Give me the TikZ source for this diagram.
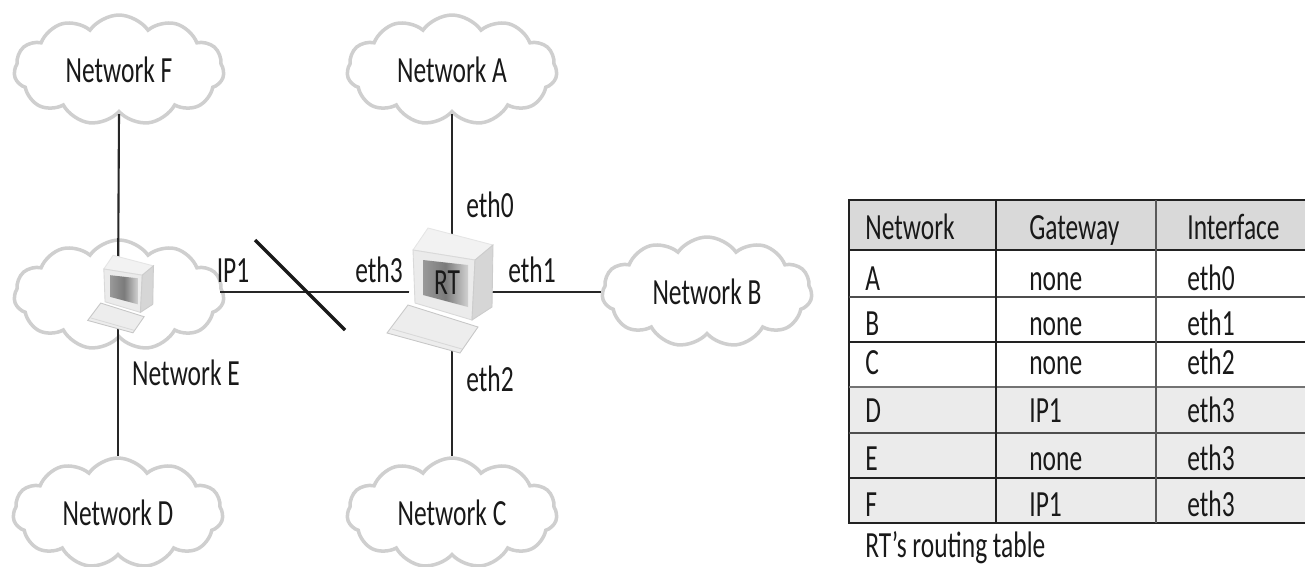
\documentclass[tikz,border=0pt]{standalone}
\usepackage{fontspec}
\setmainfont[FakeStretch=0.69]{Carlito}
\usepackage{tikz}
\usetikzlibrary{shapes.symbols}
\definecolor{cloudline}{HTML}{CFCFCF}
\definecolor{tableline}{HTML}{222222}
\definecolor{headfill}{HTML}{D9D9D9}
\definecolor{rowfill}{HTML}{EBEBEB}
\tikzset{
    netcloud/.style={cloud, cloud puffs=11, cloud puff arc=110, aspect=1.9, draw=cloudline, line width=2pt, fill=white, minimum width=4.2cm, minimum height=2.2cm, inner sep=0pt, font=\fontsize{21}{24}\selectfont, text=black!90},
    lbl/.style={inner sep=0pt, text height=18pt, text depth=4pt, font=\fontsize{21}{24}\selectfont, text=black!90},
    cell/.style={lbl, anchor=west},
    link/.style={line width=1.2pt, black!85},
    hostpoint/.style={inner sep=0pt, minimum size=0pt},
    computer/.pic={
        \fill[white] (-24,-64) -- (41,-47) -- (40,15) -- (26,35) -- (8,61) -- (-65,41) -- (-44,13) -- (-39,-42) -- cycle;
        \draw[black!10, fill=black!5, line width=.5pt] (-24,-64) -- (41,-47) -- (23,-32) -- (-39,-42) -- cycle;
        \draw[black!15, fill=black!8, line width=.5pt] (-39,-42) -- (23,-32) -- (20,28) -- (-37,11) -- cycle;
        \draw[black!20, fill=black!16, line width=.5pt] (41,-47) -- (23,-32) -- (20,28) -- (40,15) -- cycle;
        \shade[left color=black!40, right color=black!18, middle color=black!52] (-29,-32) -- (16,-27) -- (16,15) -- (-29,3) -- cycle;
        \draw[black!22, fill=black!7, line width=.5pt] (-44,13) -- (26,35) -- (8,61) -- (-65,41) -- cycle;
        \draw[black!15, line width=.5pt] (-60,37) -- (10,57);
    }
}
\begin{document}
\begin{tikzpicture}[x=0.02cm, y=-0.02cm]
    \useasboundingbox (0,0) rectangle (1305,566);
    % clouds
    \node[netcloud] (netf) at (119,70) {Network F};
    \node[netcloud] (neta) at (452,70) {Network A};
    \node[netcloud] (nete) at (119,295) {};
    \node[netcloud] (netb) at (707,292) {Network B};
    \node[netcloud] (netd) at (118,513) {Network D};
    \node[netcloud] (netc) at (452,513) {Network C};
    \node[hostpoint] (rt) at (452,292) {};
    \node[hostpoint] (hoste) at (118,292) {};
    \coordinate (slasha) at (255,240);
    \coordinate (slashb) at (345,330);
    % links
    \draw[link] (netf.south) -- (hoste);
    \draw[link] (hoste) -- (netd.north);
    \draw[link] (neta.south) -- (rt);
    \draw[link] (rt) -- (netc.north);
    \draw[link] ([xshift=-.1cm]nete.east |- rt) -- (rt);
    \draw[link] (rt) -- (netb.west |- rt);
    \draw[line width=1.9pt, black!90] (slasha) -- (slashb);
    % computers
    \pic[scale=.62] at (128,295) {computer};
    \pic at (452,292) {computer};
    \node[lbl] (rtname) at (447,282) {RT};
    \node[lbl] (netename) at (186,373) {Network E};
    \node[lbl] (ipone) at (233,270) {IP1};
    \node[lbl] (ethzero) at (490,205) {eth0};
    \node[lbl] (ethone) at (532,270) {eth1};
    \node[lbl] (ethtwo) at (490,379) {eth2};
    \node[lbl] (eththree) at (379,270) {eth3};
    % table
    \fill[headfill] (849,200) rectangle (1305,250);
    \fill[rowfill] (849,387) rectangle (1305,523);
    \draw[tableline, line width=1.3pt]
(1305,200) --
(849,200) --
(849,523) --
(1305,523);
    \draw[tableline, line width=1.1pt] (849,250) -- (1305,250);
    \draw[tableline!80, line width=1.1pt] (849,297) -- (1305,297);
    \draw[tableline, line width=1.1pt] (849,342) -- (1305,342);
    \draw[black!55, line width=1.6pt] (849,387) -- (1305,387);
    \draw[tableline!80, line width=1.1pt] (849,433) -- (1305,433);
    \draw[tableline, line width=1.1pt] (849,478) -- (1305,478);
    \draw[tableline, line width=1.1pt] (996,200) -- (996,523);
    \draw[black!65, line width=1.6pt] (1156,200) -- (1156,523);
    \node[cell] (headnet) at (865,227) {Network};
    \node[cell] (headgate) at (1029,227) {Gateway};
    \node[cell] (headif) at (1187,227) {Interface};
    \node[cell] (neta1) at (865,278) {A};
    \node[cell] (gatea) at (1029,278) {none};
    \node[cell] (ifa) at (1187,278) {eth0};
    \node[cell] (netb1) at (865,323) {B};
    \node[cell] (gateb) at (1029,323) {none};
    \node[cell] (ifb) at (1187,323) {eth1};
    \node[cell] (netc1) at (865,362) {C};
    \node[cell] (gatec) at (1029,362) {none};
    \node[cell] (ifc) at (1187,362) {eth2};
    \node[cell] (netd1) at (865,410) {D};
    \node[cell] (gated) at (1029,410) {IP1};
    \node[cell] (ifd) at (1187,410) {eth3};
    \node[cell] (nete1) at (865,458) {E};
    \node[cell] (gatee) at (1029,458) {none};
    \node[cell] (ife) at (1187,458) {eth3};
    \node[cell] (netf1) at (865,504) {F};
    \node[cell] (gatef) at (1029,504) {IP1};
    \node[cell] (iff) at (1187,504) {eth3};
    \node[cell, text height=14pt] (caption) at (865,549) {RT's routing table};
\end{tikzpicture}
\end{document}
